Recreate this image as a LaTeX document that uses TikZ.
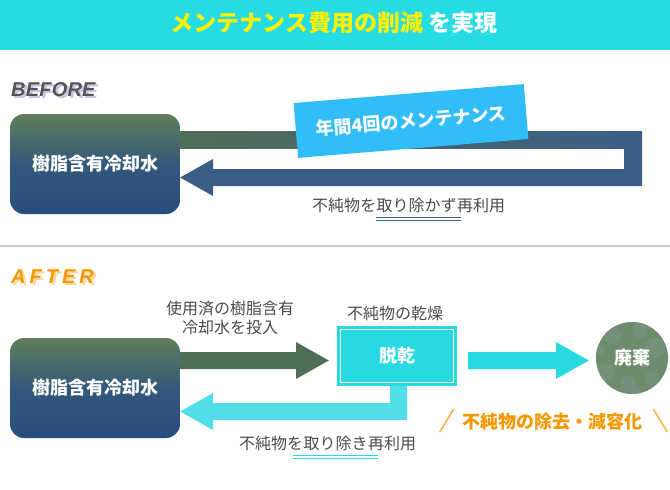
\documentclass[tikz,border=0pt]{standalone}
\usepackage{fontspec}
\setmainfont{Noto Sans CJK JP}
\newfontfamily\latinlbl[LetterSpace=1]{Liberation Sans}
\newfontfamily\latinlblw[LetterSpace=20]{Liberation Sans}
\usetikzlibrary{calc}
\definecolor{cyanH}{HTML}{25DCE5}
\definecolor{yellowT}{HTML}{FFF100}
\definecolor{greenA}{HTML}{4F6E57}
\definecolor{blueA}{HTML}{3B5E86}
\definecolor{boxTop}{HTML}{607E5A}
\definecolor{boxMid}{HTML}{33587B}
\definecolor{boxBot}{HTML}{284C7E}
\definecolor{cyanA}{HTML}{26D9E3}
\definecolor{cyanL}{HTML}{52DEE7}
\definecolor{labelBlue}{HTML}{30BDF9}
\definecolor{orangeT}{HTML}{F39800}
\definecolor{orangeL}{HTML}{F7AE45}
\definecolor{grayT}{HTML}{4A4A4A}
\definecolor{grayS}{HTML}{555555}
\definecolor{lavS}{HTML}{C9C3E6}
\definecolor{orangeS}{HTML}{FBD7A0}
\definecolor{wasteG}{HTML}{6E8B6B}
\definecolor{wasteL}{HTML}{76917A}
\definecolor{sepG}{HTML}{CCCCCC}
\tikzset{
  mainbox/.style={rounded corners=14pt, minimum width=170pt, minimum height=100pt,
    top color=boxTop, bottom color=boxBot, middle color=boxMid, text=white,
    font=\bfseries\fontsize{18}{20}\selectfont},
  note/.style={text=grayT, font=\fontsize{16}{19}\selectfont, inner sep=0pt},
  notepart/.style={note, anchor=base west},
  phase/.style={font=\bfseries\itshape\fontsize{20}{22}\selectfont, anchor=west, inner sep=0pt},
  whitebold/.style={text=white, font=\bfseries\fontsize{18}{20}\selectfont}
}
\begin{document}
\begin{tikzpicture}[x=1pt,y=-1pt]
\useasboundingbox (0,0) rectangle (670,490);
% header
\fill[cyanH] (0,0) rectangle (670,50);
\node[font=\bfseries\fontsize{23}{25}\selectfont, inner sep=0pt] (title) at (334,23)
  {\textcolor{yellowT}{メンテナンス費用の削減} \textcolor{white}{を実現}};
% separator
\draw[sepG, line width=1.5pt] (0,246) -- (670,246);

% ===== BEFORE =====
\node[phase, text=lavS] (beforeS) at (13.5,91.5) {\latinlbl BEFORE};
\node[phase, text=grayS] (before) at (11,90) {\latinlbl BEFORE};
\node[mainbox] (boxB) at (95,164) {樹脂含有冷却水};
\coordinate (bTop) at ($(boxB.east)+(0,-33)$);
\coordinate (bTip) at ($(boxB.east)+(0,13.5)$);
\fill[left color=greenA, right color=blueA] (bTop) rectangle (624,148);
\fill[blueA] (624,131) -- (642,131) -- (642,186) -- (213,186) -- (213,196)
  -- (bTip) -- (213,159) -- (213,169) -- (624,169) -- cycle;
\node[rotate=4.7, fill=labelBlue, minimum width=231pt, minimum height=55pt, inner sep=0pt,
  whitebold] (maint) at (411,121) {年間4回のメンテナンス};
\node[notepart] (nb1) at (312,211) {不純物を};
\node[notepart] (nb2) at (nb1.base east) {取り除かず};
\node[notepart] (nb3) at (nb2.base east) {再利用};
\draw[blueA, line width=1pt] ($(nb2.south west)+(0,5)$) -- ($(nb2.south east)+(4,5)$);
\draw[blueA, line width=1pt] ($(nb2.south west)+(0,8)$) -- ($(nb2.south east)+(4,8)$);

% ===== AFTER =====
\node[phase, text=orangeS] (afterS) at (13.5,278.5) {\latinlblw AFTER};
\node[phase, text=orangeT] (after) at (11,277) {\latinlblw AFTER};
\node[mainbox] (boxA) at (95,388) {樹脂含有冷却水};
\node[note, align=center, font=\fontsize{16}{19}\selectfont] (input) at (230,318) {使用済の樹脂含有\\冷却水を投入};
\node[note] (drylbl) at (395,313) {不純物の乾燥};
\node[fill=cyanA, minimum width=120pt, minimum height=60pt, whitebold] (dry) at (397,356) {脱乾};
\draw[white, line width=1pt] ([shift={(3.5,3.5)}]dry.north west) rectangle ([shift={(-3.5,-3.5)}]dry.south east);
% green arrow
\coordinate (gS) at ($(boxA.east)+(0,-36)$);
\coordinate (gT) at ($(dry.west)+(-8,4.5)$);
\fill[greenA] (gS) -- (296,352) -- (296,342) -- (gT) -- (296,379) -- (296,369) -- ($(gS)+(0,17)$) -- cycle;
% waste circle
\node[circle, fill=wasteG, minimum size=72pt, inner sep=0pt] (waste) at (632,358) {};
\begin{scope}
  \clip (waste.center) circle (36pt);
  \fill[wasteL] (612,335) circle (9pt) (640,330) circle (8pt) (655,348) circle (10pt)
    (606,372) circle (9pt) (628,384) circle (8pt) (652,378) circle (7pt) (620,352) circle (6pt)
    (645,362) circle (6pt) (600,350) circle (5pt) (635,392) circle (6pt);
\end{scope}
\node[whitebold] (wastelbl) at (waste.center) {廃棄};
% cyan arrow to waste
\coordinate (cS) at ($(dry.east)+(11,-4)$);
\coordinate (cT) at ($(waste.west)+(-7,2.5)$);
\fill[cyanA] (cS) -- (556,352) -- (556,342) -- (cT) -- (556,379) -- (556,369) -- ($(cS)+(0,17)$) -- cycle;
% return arrow
\coordinate (rS) at ($(dry.south)+(-7,0)$);
\coordinate (rT) at ($(boxA.east)+(0,23.5)$);
\fill[cyanL] (rS) -- ($(rS)+(17,0)$) -- (407,420) -- (213,420) -- (213,430) -- (rT)
  -- (213,393) -- (213,403) -- (390,403) -- cycle;
\node[notepart] (na1) at (239,449) {不純物を};
\node[notepart] (na2) at (na1.base east) {取り除き};
\node[notepart] (na3) at (na2.base east) {再利用};
\draw[cyanA, line width=1pt] ($(na2.south west)+(-10,5)$) -- ($(na2.south east)+(10,5)$);
\draw[cyanA, line width=1pt] ($(na2.south west)+(-10,8)$) -- ($(na2.south east)+(10,8)$);
% orange result
\node[text=orangeT, font=\bfseries\fontsize{18}{20}\selectfont, inner sep=0pt] (result) at (552,422) {不純物の除去・減容化};
\coordinate (sl1) at ($(result.west)+(-22,10)$);
\coordinate (sl2) at ($(result.east)+(11,-13)$);
\draw[orangeL, line width=1.5pt] (sl1) -- ++(14,-23);
\draw[orangeL, line width=1.5pt] (sl2) -- ++(14,23);
\end{tikzpicture}
\end{document}
